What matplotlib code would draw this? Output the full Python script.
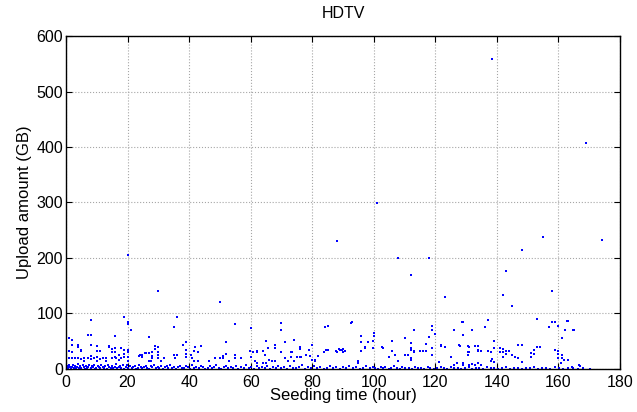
import matplotlib.pyplot as plt

plt.rcParams['font.family'] = ['Liberation Sans', 'DejaVu Sans']

# outliers and mid-range points (hours, GB)
high_hours = [138.5, 169, 101, 88, 155, 174, 148, 20, 108, 118, 143, 112, 158, 30, 142, 123, 50, 145]
high_upload = [558, 408, 299, 231, 237, 232, 214, 206, 200, 200, 176, 170, 141, 141, 133, 130, 121, 113]

mid_hours = [8, 19, 20, 20, 21, 36, 35, 55, 60, 70, 70, 84, 85, 93, 1, 2, 7, 8, 16, 27,
             100, 100, 96, 110, 113, 118, 119, 119, 126, 129, 129, 132, 136, 137, 139, 153, 157, 158, 159, 160,
             161, 162, 163, 165, 65, 74, 98, 106, 112, 117, 52, 39, 71, 92.7, 96, 99.8, 120, 128.7, 162.7, 164.6]
mid_upload = [88, 93, 85, 81, 71, 93, 76, 81, 74, 82, 71, 76, 78, 84, 55, 53, 61, 62, 59, 58,
              64, 59, 59, 55, 71, 58, 77, 70, 70, 84, 62, 70, 76, 88, 50, 90, 75, 84, 85, 78,
              55, 71, 87, 71, 51, 53, 48, 50, 47, 45, 48, 48, 48, 82, 49, 51, 63, 85, 87, 70]

low_hours = [2, 4, 5, 8, 10, 11, 14, 15, 16, 18, 20, 29, 30, 30, 28, 24, 26, 44, 43, 55,
             60, 62, 64, 68, 73, 80, 85, 88, 89, 90, 95, 90, 97, 96, 103, 106, 112, 113, 116, 117,
             122, 123, 128, 131, 131, 134, 135, 138, 142, 142, 144, 145, 148, 147, 152, 154, 160, 161, 161, 163,
             167, 1, 2, 1, 2, 3, 4, 5, 4, 5, 6, 7, 6, 8, 8.2, 9, 10, 10, 10, 11,
             11, 12, 13, 13, 14.1, 14.9, 14.9, 16, 16, 16.3, 17.3, 17.3, 18, 18.9, 18.9, 18.9, 20, 20, 20, 23.7,
             24.6, 24.6, 25.6, 26.9, 27, 27.5, 28, 28, 29, 30, 30, 31, 32, 35, 36, 35.5, 38, 39, 39, 39,
             40.5, 41, 41.5, 41.5, 42, 43, 46.5, 48.5, 50, 51, 51, 52, 53, 55, 57, 59.7, 60.6, 62, 61.4, 64.7,
             65.5, 66, 68, 67, 70, 71, 72, 73, 74, 75, 76, 76, 76, 78, 79, 80, 81, 81, 83.8, 84.6,
             63.9, 68, 73.3, 76.3, 79.2, 85.1, 81.8, 87.7, 88.6, 89.6, 90.5, 67.8, 62, 64, 65, 95.8, 97, 99.8, 95, 95,
             102.8, 104.8, 107, 108, 110, 111, 112, 112, 112, 113, 115, 116, 117, 117, 119, 119, 121.3, 122, 123, 125,
             126, 127.7, 130.7, 130.7, 130.7, 133, 134, 134, 137, 139, 138, 138.5, 139, 141, 141, 142, 143, 143, 147, 146,
             148, 151, 151, 152, 153, 127, 129, 129, 131, 132, 133, 134, 135, 158.9, 160, 160, 161.7, 160.7, 166.6, 164.5]
low_upload = [43, 44, 35, 44, 41, 32, 41, 31, 38, 38, 35, 41, 39, 31, 30, 26, 28, 41, 31, 26,
              21, 31, 32, 38, 30, 44, 35, 31, 35, 30, 13, 36, 39, 32, 38, 32, 35, 32, 32, 32,
              42, 39, 41, 39, 31, 41, 33, 31, 36, 30, 32, 26, 44, 20, 27, 39, 32, 26, 20, 17,
              6, 32, 31, 20, 19, 20, 39, 33, 19, 18, 19, 19, 14, 23, 18, 19, 32, 22, 14, 33,
              18, 19, 19, 14, 40, 36, 19, 31, 22, 19, 26, 16, 19, 35, 27, 22, 31, 22, 14, 24,
              25, 21, 29, 28, 14, 14, 19, 24, 36, 26, 19, 14, 19, 26, 26, 20, 43, 35, 27, 22,
              25, 19, 33, 14, 40, 15, 14, 20, 20, 24, 19, 27, 14, 20, 20, 33, 30, 33, 14, 26,
              37, 17, 43, 14, 30, 19, 14, 22, 14, 22, 40, 36, 22, 25, 35, 17, 17, 14, 31, 35,
              33, 38, 31, 21, 24, 35, 23, 32, 36, 34, 32, 15, 11, 11, 11, 60, 38, 37, 15, 11,
              39, 22, 26, 15, 25, 25, 38, 20, 16, 31, 32, 32, 45, 33, 37, 25, 12, 43, 40, 22,
              8, 43, 41, 31, 25, 42, 35, 33, 33, 37, 15, 18, 13, 37, 31, 21, 33, 27, 44, 22,
              12, 28, 22, 34, 39, 11, 11, 8, 8, 9, 8, 10, 7, 34, 27, 19, 17, 11, 7, 4]

# dense band close to zero
base_hours = [0.2, 0.5, 0.8, 1.1, 1.4, 1.7, 2.0, 2.3, 2.6, 3.0, 3.3, 3.6, 4.0, 4.3, 4.7, 5.0, 5.4, 5.8, 6.1, 6.5,
              6.9, 7.2, 7.6, 8.0, 8.3, 8.7, 9.1, 9.5, 9.9, 10.3, 10.7, 11.1, 11.5, 11.9, 12.3, 12.8, 13.2, 13.6, 14.0, 14.5,
              14.9, 15.3, 15.8, 16.2, 16.7, 17.1, 17.6, 18.0, 18.5, 19.0, 19.4, 19.9, 20.3, 20.8, 21.3, 21.8, 22.3, 22.8, 23.3, 23.8,
              24.3, 24.8, 25.4, 25.9, 26.4, 27.0, 27.5, 28.1, 28.6, 29.2, 29.8, 30.3, 30.9, 31.5, 32.1, 32.7, 33.3, 33.9, 34.5, 35.2,
              35.8, 36.4, 37.1, 37.7, 38.4, 39.0, 39.7, 40.4, 41.0, 41.7, 42.4, 43.1, 43.8, 44.5, 45.2, 46.0, 46.7, 47.4, 48.2, 48.9,
              49.7, 50.5, 51.2, 52.0, 52.8, 53.6, 54.4, 55.2, 56.0, 56.8, 57.7, 58.5, 59.3, 60.2, 61.0, 61.9, 62.8, 63.6, 64.5, 65.4,
              66.3, 67.2, 68.1, 69.0, 70.0, 70.9, 71.8, 72.8, 73.7, 74.7, 75.7, 76.6, 77.6, 78.6, 79.6, 80.6, 81.6, 82.6, 83.7, 84.7,
              85.7, 86.8, 87.8, 88.9, 90.0, 91.0, 92.1, 93.2, 94.3, 95.4, 96.5, 97.6, 98.8, 99.9]
base_upload = [2, 5, 1, 7, 3, 0.5, 4, 8, 2, 6, 1, 3, 9, 2, 5, 1, 7, 3, 0.5, 6,
               2, 4, 8, 1, 5, 3, 7, 0.5, 2, 6, 4, 1, 8, 3, 2, 5, 0.5, 7, 3, 1,
               6, 2, 4, 9, 1, 3, 5, 2, 7, 0.5, 4, 8, 2, 6, 1, 3, 5, 0.5, 2, 7,
               4, 1, 3, 6, 2, 0.5, 5, 3, 8, 1, 4, 2, 6, 0.5, 3, 5, 1, 7, 2, 4,
               0.5, 3, 6, 1, 2, 5, 3, 0.5, 7, 2, 4, 1, 6, 3, 0.5, 2, 5, 1, 4, 7,
               2, 0.5, 3, 6, 1, 4, 2, 5, 0.5, 3, 1, 7, 2, 4, 0.5, 6, 1, 3, 2, 5,
               0.5, 4, 1, 6, 2, 3, 0.5, 5, 2, 1, 4, 7, 0.5, 3, 2, 6, 1, 4, 0.5, 2,
               5, 1, 3, 0.5, 4, 2, 6, 1, 3, 0.5, 2, 5, 1, 3]

tail_hours = [100.5, 101.3, 102.2, 103.0, 103.8, 104.9, 105.7, 106.6, 107.4, 108.5, 109.3, 110.2, 111.4, 112.3, 113.5,
              114.4, 115.2, 116.3, 117.5, 118.4, 119.6, 120.5, 121.8, 122.7, 123.9, 125.0, 126.2, 127.5, 128.4, 129.6,
              130.8, 132.0, 133.1, 134.3, 135.6, 136.8, 138.0, 139.2, 140.5, 141.7, 142.9, 144.2, 145.5, 146.8, 148.0,
              149.3, 150.6, 151.9, 153.3, 154.6, 156.0, 157.3, 158.8, 160.1, 161.5, 163.0, 164.6, 166.2, 168.0, 170.1]
tail_upload = [2, 0.5, 4, 1, 3, 0.5, 2, 5, 1, 0.5, 3, 1, 2, 0.5, 4, 1, 2, 0.5, 3, 1,
               0.5, 2, 4, 1, 0.5, 3, 1, 2, 0.5, 1, 3, 0.5, 2, 1, 0.5, 4, 1, 2, 0.5, 1,
               3, 0.5, 2, 1, 0.5, 2, 1, 3, 0.5, 1, 2, 0.5, 4, 1, 0.5, 2, 1, 0.5, 1, 0.5]

hours = high_hours + mid_hours + low_hours + base_hours + tail_hours
upload = high_upload + mid_upload + low_upload + base_upload + tail_upload

fig = plt.figure(figsize=(6.37, 4.12), dpi=100)
ax = fig.add_axes([0.1036, 0.1044, 0.8697, 0.8082])
ax.plot(hours, upload, 's', color='blue', markersize=1.7, markeredgewidth=0)

ax.set_xlim(0, 180)
ax.set_ylim(0, 600)
ax.set_xticks(range(0, 181, 20))
ax.set_yticks(range(0, 601, 100))
ax.grid(True, linestyle=':', color='0.65', linewidth=0.8)
ax.set_axisbelow(True)
ax.tick_params(direction='in', top=True, right=True, length=4, labelsize=11.5)
ax.tick_params(axis='x', pad=4)
ax.tick_params(axis='y', pad=2)
for s in ax.spines.values():
    s.set_linewidth(1.0)

ax.set_xlabel('Seeding time (hour)', fontsize=12, labelpad=-1)
ax.set_ylabel('Upload amount (GB)', fontsize=12, labelpad=3)
ax.set_title('HDTV', fontsize=11.5, pad=13)

fig.savefig('out.png', dpi=100)
